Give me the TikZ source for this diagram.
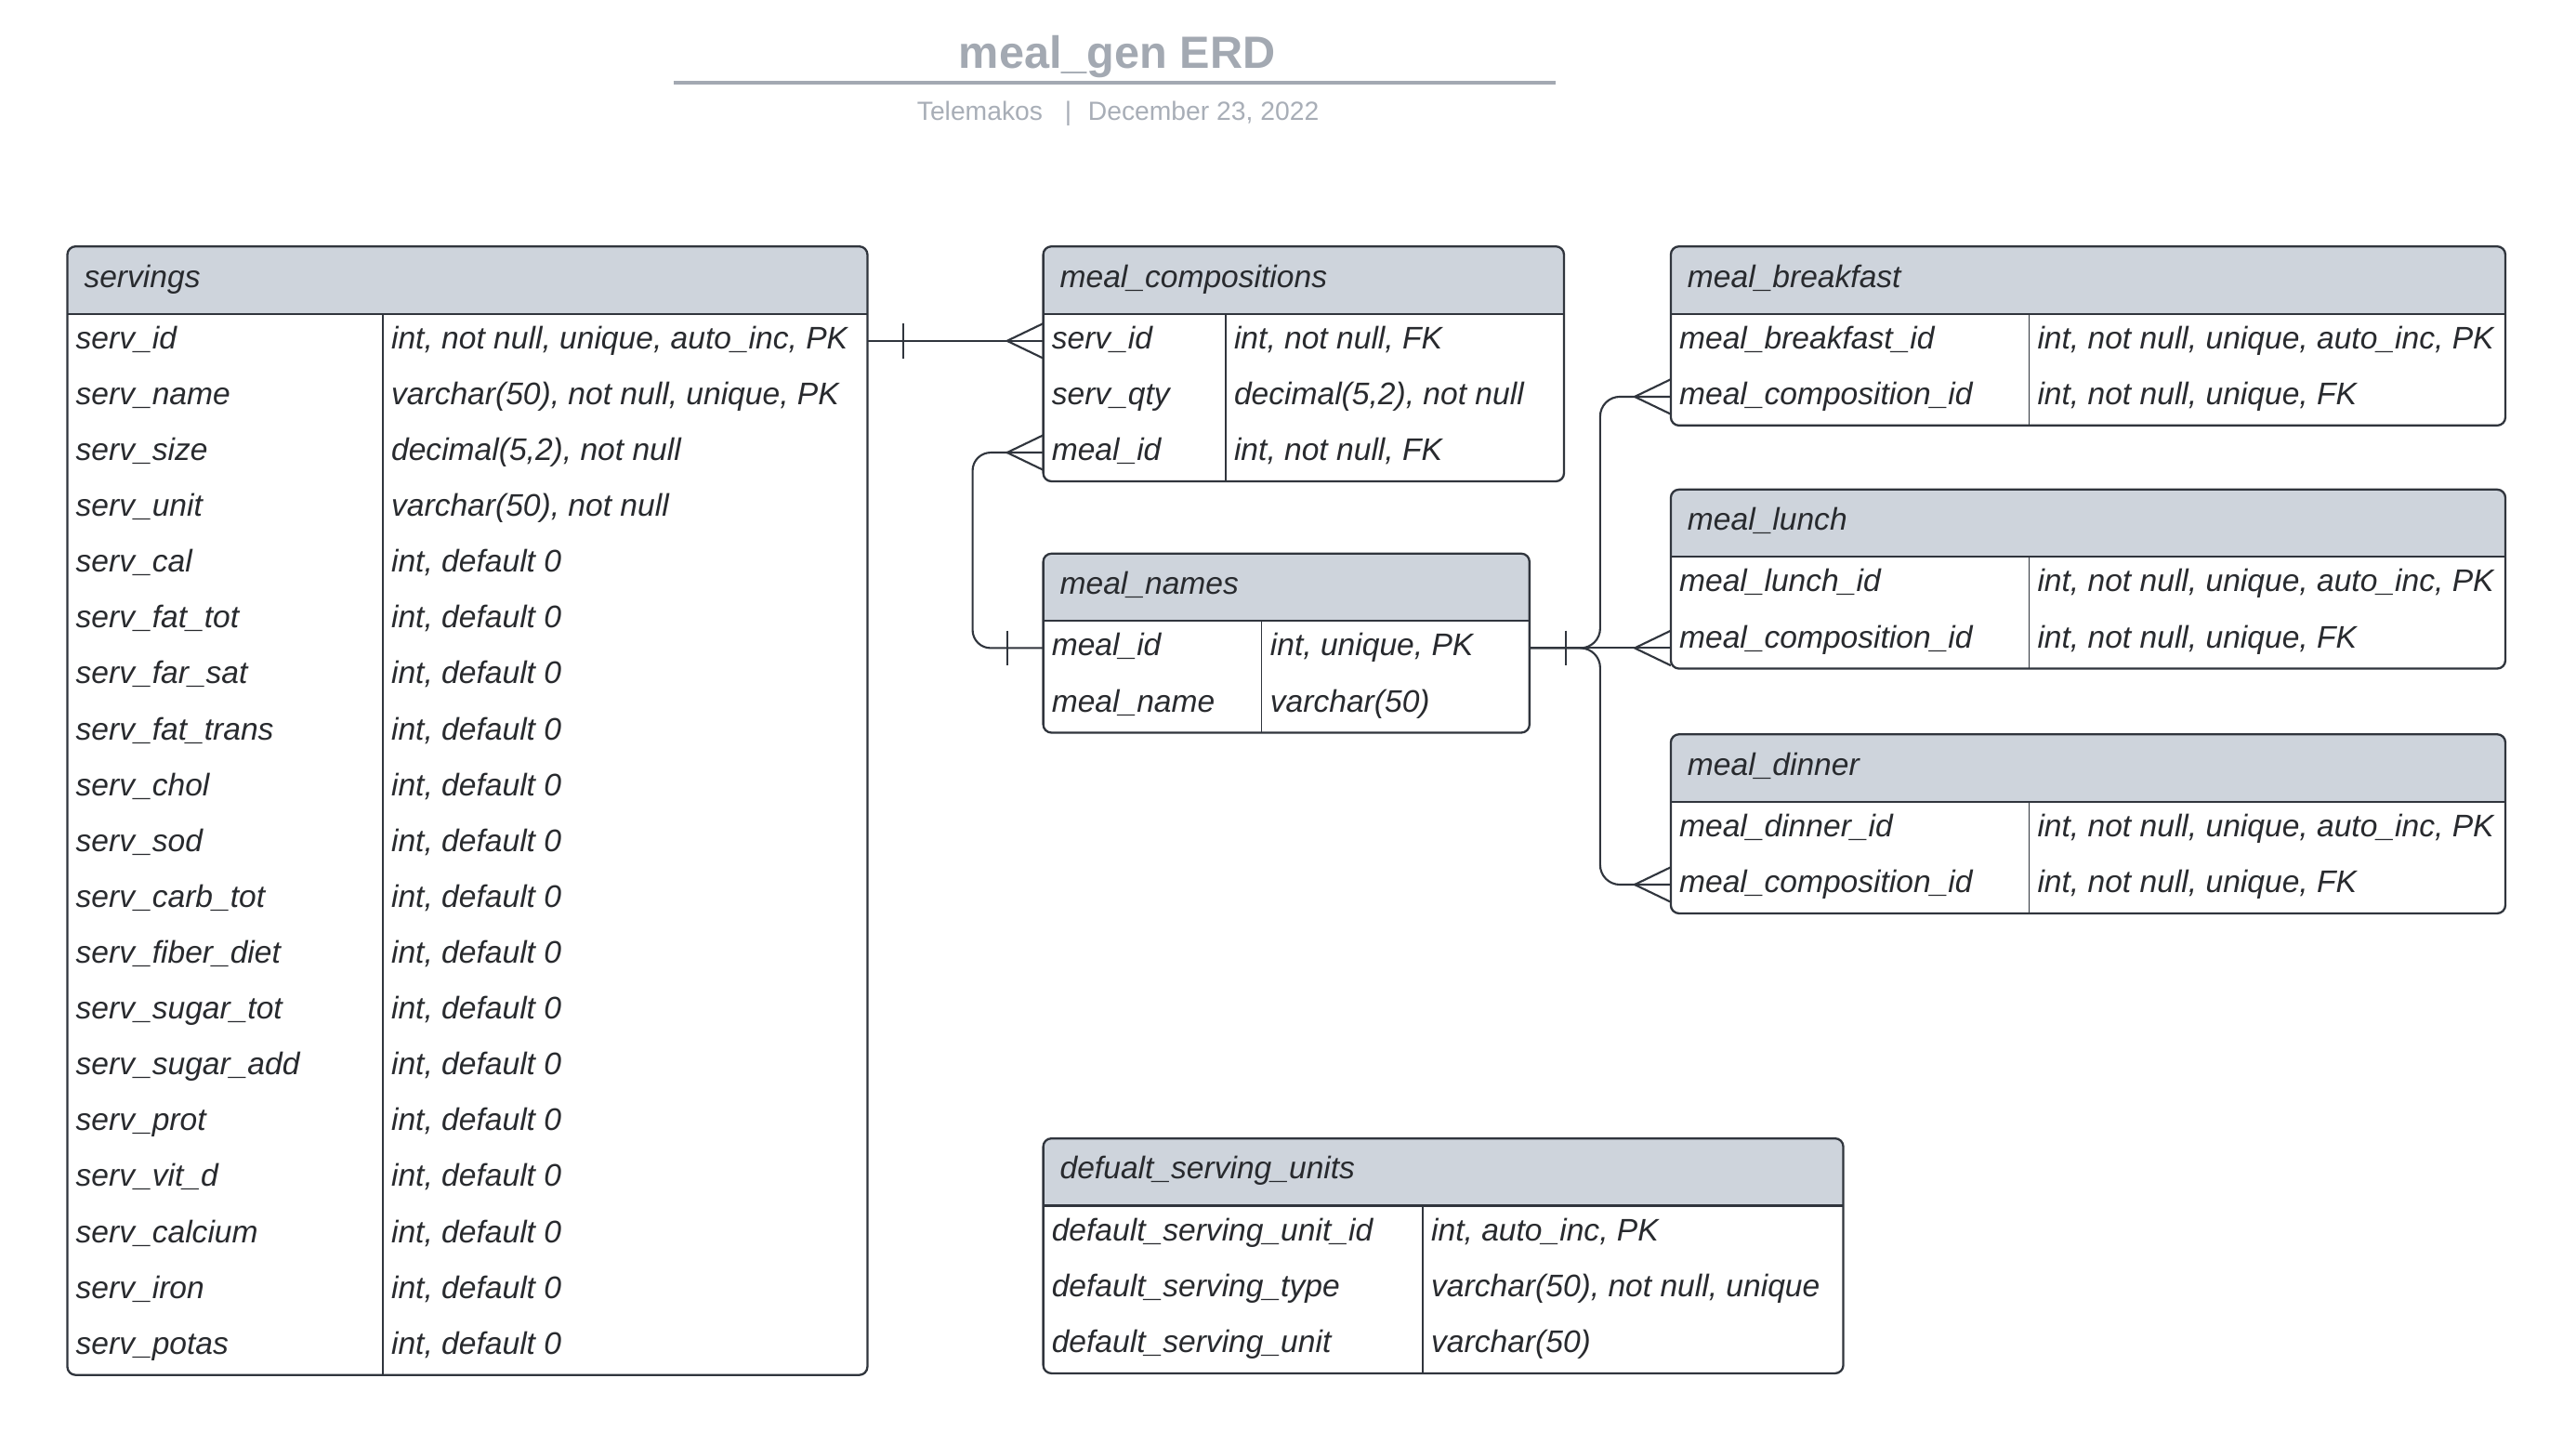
\documentclass[tikz,border=0pt]{standalone}
\usepackage{fontspec}
\setmainfont{Liberation Sans}
\usetikzlibrary{calc}
\definecolor{hdrc}{HTML}{CED4DC}
\definecolor{bordc}{HTML}{30353D}
\definecolor{txtc}{HTML}{282A2E}
\definecolor{titc}{HTML}{A3A9B2}
\definecolor{subc}{HTML}{A8AEB7}
\tikzset{
  tbl/.style={draw=bordc, line width=1.3pt, rounded corners=5pt, inner sep=0pt, outer sep=0pt},
  tblline/.style={draw=bordc, line width=1.3pt},
  divline/.style={draw=bordc, line width=0.8pt},
  field/.style={font=\fontsize{19}{22}\selectfont\itshape, text=txtc, inner sep=0pt, text height=13.6pt, text depth=4pt},
  conn/.style={draw=bordc, line width=1.2pt},
  titlefont/.style={font=\fontsize{27.5}{30}\selectfont\bfseries, text=titc, inner sep=0pt},
  subfont/.style={font=\fontsize{16}{18}\selectfont, text=subc, inner sep=0pt},
}
% #1 name, #2 title, #3 x1, #4 x2, #5 divider x, #6 top, #7 nrows, #8 rows
\newcommand\erdtab[8]{%
  \pgfmathsetmacro\erdHB{#6+41}%
  \pgfmathsetmacro\erdBot{#6+41+34*#7}%
  \pgfmathsetmacro\erdW{#4-#3}%
  \pgfmathsetmacro\erdH{41+34*#7}%
  \fill[hdrc, rounded corners=5pt] (#3,#6) rectangle (#4,\erdHB);
  \fill[hdrc] (#3,#6+10) rectangle (#4,\erdHB);
  \node[tbl, minimum width=\erdW pt, minimum height=\erdH pt, anchor=north west] (#1) at (#3,#6) {};
  \draw[tblline] (#3,\erdHB) -- (#4,\erdHB);
  \draw[divline] (#5,\erdHB) -- (#5,\erdBot);
  \node[field, anchor=west] (#1-h) at (#3+10,#6+20) {#2};
  \foreach [count=\i] \a/\b in {#8} {
    \pgfmathsetmacro\erdRY{#6+41+34*\i-17.5}
    \node[field, anchor=west] (#1-k\i) at (#3+5,\erdRY) {\a};
    \node[field, anchor=west] (#1-v\i) at (#5+5,\erdRY) {\b};
  }%
}
\newcommand\crowfoot[2]{\draw[conn] ($(#1)+(0,-10.6)$) -- ($(#1)+(#2*22,0)$) -- ($(#1)+(0,10.6)$);}
\newcommand\onebar[2]{\draw[conn] ($(#1)+(#2*22,-10.6)$) -- ($(#1)+(#2*22,10.6)$);}
\begin{document}
\begin{tikzpicture}[x=1pt,y=-1pt]
\fill[white] (0,0) rectangle (1568,879);
\useasboundingbox (0,0) rectangle (1568,879);

% title
\node[titlefont, anchor=base] (title) at (680,41.5) {meal\_gen ERD};
\coordinate (tl1) at (410,50.5);
\coordinate (tl2) at (947,50.5);
\draw[titc, line width=2.2pt] (tl1) -- (tl2);
\node[subfont, anchor=base west] (sub) at (558,73.5) {Telemakos\hspace{13.5pt}|\hspace{10pt}December 23, 2022};

\erdtab{servings}{servings}{41}{528}{233}{150}{19}{%
 {serv\_id}/{int, not null, unique, auto\_inc, PK},
 {serv\_name}/{varchar(50), not null, unique, PK},
 {serv\_size}/{decimal(5,2), not null},
 {serv\_unit}/{varchar(50), not null},
 {serv\_cal}/{int, default 0},
 {serv\_fat\_tot}/{int, default 0},
 {serv\_far\_sat}/{int, default 0},
 {serv\_fat\_trans}/{int, default 0},
 {serv\_chol}/{int, default 0},
 {serv\_sod}/{int, default 0},
 {serv\_carb\_tot}/{int, default 0},
 {serv\_fiber\_diet}/{int, default 0},
 {serv\_sugar\_tot}/{int, default 0},
 {serv\_sugar\_add}/{int, default 0},
 {serv\_prot}/{int, default 0},
 {serv\_vit\_d}/{int, default 0},
 {serv\_calcium}/{int, default 0},
 {serv\_iron}/{int, default 0},
 {serv\_potas}/{int, default 0}}

\erdtab{comp}{meal\_compositions}{635}{952}{746}{150}{3}{%
 {serv\_id}/{int, not null, FK},
 {serv\_qty}/{decimal(5,2), not null},
 {meal\_id}/{int, not null, FK}}

\erdtab{names}{meal\_names}{635}{931}{768}{337}{2}{%
 {meal\_id}/{int, unique, PK},
 {meal\_name}/{varchar(50)}}

\erdtab{bf}{meal\_breakfast}{1017}{1525}{1235}{150}{2}{%
 {meal\_breakfast\_id}/{int, not null, unique, auto\_inc, PK},
 {meal\_composition\_id}/{int, not null, unique, FK}}

\erdtab{lunch}{meal\_lunch}{1017}{1525}{1235}{298}{2}{%
 {meal\_lunch\_id}/{int, not null, unique, auto\_inc, PK},
 {meal\_composition\_id}/{int, not null, unique, FK}}

\erdtab{din}{meal\_dinner}{1017}{1525}{1235}{447}{2}{%
 {meal\_dinner\_id}/{int, not null, unique, auto\_inc, PK},
 {meal\_composition\_id}/{int, not null, unique, FK}}

\erdtab{units}{defualt\_serving\_units}{635}{1122}{866}{693}{3}{%
 {default\_serving\_unit\_id}/{int, auto\_inc, PK},
 {default\_serving\_type}/{varchar(50), not null, unique},
 {default\_serving\_unit}/{varchar(50)}}

% servings.serv_id -> meal_compositions.serv_id
\coordinate (p1a) at (servings.east |- servings-k1);
\coordinate (p1b) at (comp.west |- comp-k1);
\draw[conn] (p1a) -- (p1b);
\onebar{p1a}{1}
\crowfoot{p1b}{-1}

% meal_compositions.meal_id -> meal_names.meal_id
\coordinate (p2a) at (comp.west |- comp-k3);
\coordinate (p2b) at (names.west |- names-k1);
\draw[conn, rounded corners=11pt] (p2a) -- ++(-43,0) |- (p2b);
\crowfoot{p2a}{-1}
\onebar{p2b}{-1}

% meal_names.meal_id -> breakfast / lunch / dinner
\coordinate (p3) at (names.east |- names-k1);
\coordinate (q1) at (bf.west |- bf-k2);
\coordinate (q2) at (lunch.west |- names-k1);
\coordinate (q3) at (din.west |- din-k2);
\draw[conn] (p3) -- (q2);
\draw[conn, rounded corners=12pt] (p3) -- ++(43,0) |- (q1);
\draw[conn, rounded corners=12pt] (p3) -- ++(43,0) |- (q3);
\onebar{p3}{1}
\crowfoot{q1}{-1}
\crowfoot{q2}{-1}
\crowfoot{q3}{-1}
\end{tikzpicture}
\end{document}
